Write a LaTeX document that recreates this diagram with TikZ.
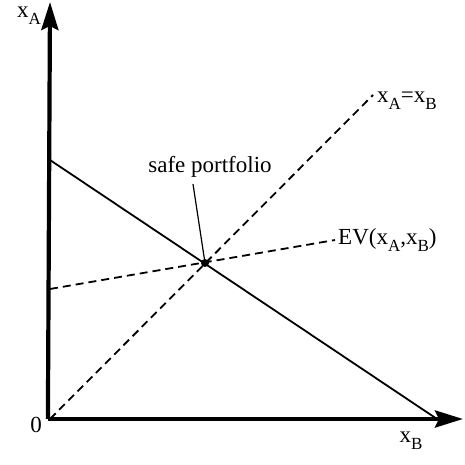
\documentclass[tikz,border=0pt]{standalone}
\usepackage{fontspec}
\setmainfont{Liberation Serif}
\usetikzlibrary{arrows.meta}
\newcommand{\mysub}[1]{\raisebox{-0.32em}{\fontsize{17}{20}\selectfont #1}}
\begin{document}
\begin{tikzpicture}[x=1pt,y=1pt,
  axis/.style={line width=4.2pt,-{Stealth[length=28pt,width=17pt,inset=4pt]}},
  solidln/.style={line width=1.8pt},
  dashln/.style={line width=1.8pt,dash pattern=on 8pt off 5pt},
  lbl/.style={font=\fontsize{23}{27}\selectfont,inner sep=0pt}]
\useasboundingbox (0,0) rectangle (464,465);
\coordinate (O) at (50,46);
\coordinate (ytop) at (50,463);
\coordinate (xend) at (463,46);
\coordinate (s1) at (50,305);
\coordinate (s2) at (437,46);
\coordinate (d2) at (373,370);
\coordinate (e1) at (50,176);
\coordinate (e2) at (335,225);
\node[circle,fill=black,inner sep=0pt,minimum size=8pt] (dot) at (205,202) {};
\draw[solidln] (s1) -- (s2);
\draw[dashln] (O) -- (d2);
\draw[dashln] (e1) -- (e2);
\draw[axis] ([xshift=-2.1pt]O) -- (ytop);
\draw[axis] ([xshift=-2.1pt]O) -- (xend);
\node[lbl] (safe) at (210,298) {safe portfolio};
\coordinate (p1) at (193,281);
\draw[line width=1.2pt] (p1) -- (dot.center);
\node[lbl] (xa) at (29,449) {x\mysub{A}};
\node[lbl,anchor=west] (eq) at (377,364) {x\mysub{A}=x\mysub{B}};
\node[lbl,anchor=west] (ev) at (338,225) {EV(x\mysub{A},x\mysub{B})};
\node[lbl] (zero) at (36,40) {0};
\node[lbl] (xb) at (411,24) {x\mysub{B}};
\end{tikzpicture}
\end{document}
